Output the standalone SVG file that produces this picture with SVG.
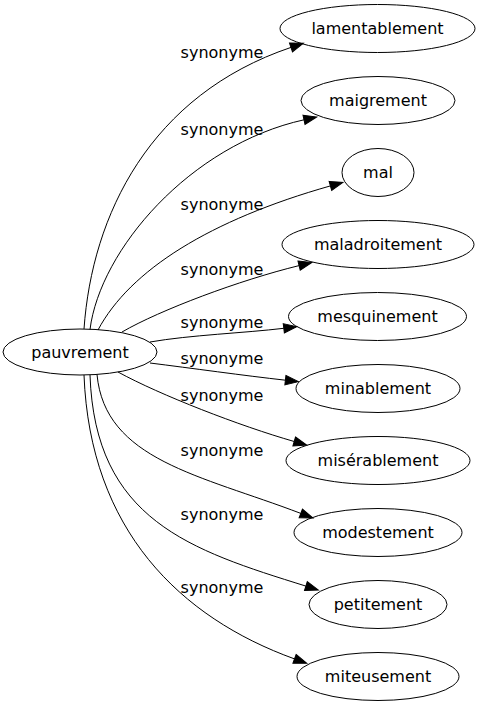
<svg xmlns="http://www.w3.org/2000/svg" width="480" height="707" viewBox="0 0 480 707">
<style>
.node ellipse{fill:none;stroke:#000;stroke-width:1}
.node text{font-family:"DejaVu Sans",sans-serif;font-size:16px;fill:#000;text-anchor:middle}
.edges path{fill:none;stroke:#000;stroke-width:1;marker-end:url(#arr)}
.edges text{font-family:"DejaVu Sans",sans-serif;font-size:16px;fill:#000;text-anchor:middle}
</style>
<defs>
<marker id="arr" markerUnits="userSpaceOnUse" markerWidth="16" markerHeight="12" refX="0" refY="0" viewBox="0 -6 16 12" orient="auto" overflow="visible">
<path d="M0,-4.7 L13,0 L0,4.7 z" fill="#000" stroke="#000" stroke-width="1"/>
</marker>
</defs>
<rect width="480" height="707" fill="#fff"/>
<g class="edges" id="edges">
<path d="M84,329 C92,215 150,95 291,47.4"/>
<text x="222" y="58">synonyme</text>
<path d="M90,329.5 C100,250 190,145 304,119.8"/>
<text x="222" y="135">synonyme</text>
<path d="M98,330 C130,270 210,220 330.4,185.9"/>
<text x="222" y="210">synonyme</text>
<path d="M122,332 C160,310 240,280 299.1,265.6"/>
<text x="222" y="275">synonyme</text>
<path d="M150,342 C190,335 245,333 283.8,328.3"/>
<text x="222" y="328">synonyme</text>
<path d="M150,363 C190,368 245,375.7 285.4,380.2"/>
<text x="222" y="364">synonyme</text>
<path d="M118,372 C160,395 240,426 294.2,441.5"/>
<text x="222" y="401">synonyme</text>
<path d="M97,374.5 C105,460 200,475 300.8,513.4"/>
<text x="222" y="456">synonyme</text>
<path d="M90,375 C95,520 190,550 305.9,586.1"/>
<text x="222" y="520">synonyme</text>
<path d="M84,375 C90,530 180,617.5 294.5,658.9"/>
<text x="222" y="593">synonyme</text>
</g>
<g class="node" id="pauvrement"><ellipse cx="80" cy="352" rx="77" ry="23"/><text x="80" y="357.5">pauvrement</text></g>
<g class="node" id="lamentablement"><ellipse cx="377.5" cy="28.5" rx="97.5" ry="24"/><text x="377.5" y="34">lamentablement</text></g>
<g class="node" id="maigrement"><ellipse cx="378" cy="100.5" rx="77" ry="24"/><text x="378" y="106">maigrement</text></g>
<g class="node" id="mal"><ellipse cx="378" cy="172.5" rx="36" ry="24"/><text x="378" y="178">mal</text></g>
<g class="node" id="maladroitement"><ellipse cx="378" cy="244.5" rx="96" ry="24"/><text x="378" y="250">maladroitement</text></g>
<g class="node" id="mesquinement"><ellipse cx="377.5" cy="316.5" rx="89" ry="24"/><text x="377.5" y="322">mesquinement</text></g>
<g class="node" id="minablement"><ellipse cx="378" cy="388.5" rx="82" ry="24"/><text x="378" y="394">minablement</text></g>
<g class="node" id="miserablement"><ellipse cx="378" cy="460.5" rx="92" ry="24"/><text x="378" y="466">misérablement</text></g>
<g class="node" id="modestement"><ellipse cx="378" cy="532.5" rx="84" ry="24"/><text x="378" y="538">modestement</text></g>
<g class="node" id="petitement"><ellipse cx="378" cy="604.5" rx="69" ry="24"/><text x="378" y="610">petitement</text></g>
<g class="node" id="miteusement"><ellipse cx="378" cy="676.5" rx="81" ry="24"/><text x="378" y="682">miteusement</text></g>
</svg>
